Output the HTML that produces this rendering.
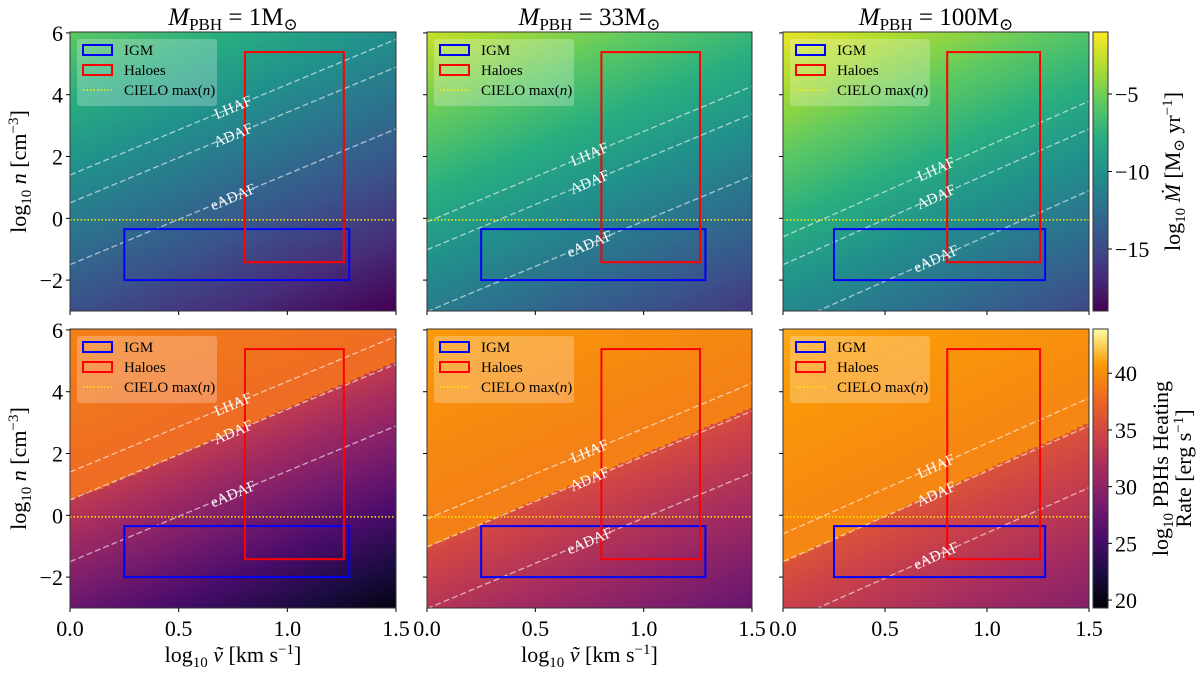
<!DOCTYPE html>
<html><head><meta charset="utf-8"><style>
html,body{margin:0;padding:0;background:#fff}
#root{position:relative;width:1200px;height:673px;overflow:hidden;font-family:"Liberation Serif","DejaVu Serif",serif}
svg{position:absolute;left:0;top:0}
canvas{position:absolute}
</style></head><body>
<div id="root">
<canvas id="c0"></canvas>
<canvas id="c1"></canvas>
<canvas id="c2"></canvas>
<canvas id="c3"></canvas>
<canvas id="c4"></canvas>
<canvas id="c5"></canvas>
<canvas id="cb0"></canvas>
<canvas id="cb1"></canvas>
<svg id="ov" width="1200" height="673"></svg>
</div>
<script>
// ---- data ----
const masses = [1, 33, 100];
const massLabels = ["1", "33", "100"];
const regimeNames = ["LHAF", "ADAF", "eADAF"];
const regimeIntercepts = [1.4, 0.5, -1.5];   // log n at log v = 0 for 1 Msun
const regimeSlope = 2.93;
const igmBox = [0.25, 1.285, -2.0, -0.35];   // x0,x1,y0,y1
const haloBox = [0.805, 1.26, -1.42, 5.38];
const cieloMaxN = -0.05;
const xTicks = [0, 0.5, 1.0, 1.5];
const xTickLabels = ["0.0", "0.5", "1.0", "1.5"];
const yTicks = [-2, 0, 2, 4, 6];
const yTickLabels = ["\u22122", "0", "2", "4", "6"];
const mdotTicks = [-5, -10, -15];
const mdotTickLabels = ["\u22125", "\u221210", "\u221215"];
const heatTicks = [20, 25, 30, 35, 40];
const heatTickLabels = ["20", "25", "30", "35", "40"];
const mdotRange = [-19, -1];
const heatRange = [19.3, 43.9];
const mdotZero = [-11.6];  // log Mdot at log n=0, log v=0, 1 Msun

// ---- layout ----
const colX = [[70,396],[427,752],[783,1089]];
const rowY = [[32,311],[329,608]];
const xDom = [0,1.5], yDom = [-3,6.03];
const cbX = [1093,1108];

const vir = ["#440154","#472d7b","#3b528b","#2c728e","#21918c","#28ae80","#5ec962","#addc30","#fde725"];
const inf = ["#000004","#1b0c41","#4a0c6b","#781c6d","#a52c60","#cf4446","#ed6925","#fb9b06","#fcffa4"];
function hex(h){return [parseInt(h.substr(1,2),16),parseInt(h.substr(3,2),16),parseInt(h.substr(5,2),16)];}
const virC = vir.map(hex), infC = inf.map(hex);
function cmap(c,t){t=Math.max(0,Math.min(1,t));const f=t*(c.length-1);const i=Math.min(c.length-2,Math.floor(f));const r=f-i;
 return [0,1,2].map(k=>Math.round(c[i][k]+(c[i+1][k]-c[i][k])*r));}

function sx(c,v){const [a,b]=colX[c];return a+(v-xDom[0])/(xDom[1]-xDom[0])*(b-a);}
function sy(r,v){const [a,b]=rowY[r];return b-(v-yDom[0])/(yDom[1]-yDom[0])*(b-a);}

function logMdot(lm,x,y){return mdotZero[0]+2*lm+y-3*x;}
function heating(lm,x,y){
  const M=logMdot(lm,x,y), m=M-lm;
  const mL=mdotZero[0]+regimeIntercepts[0], mA=mdotZero[0]+regimeIntercepts[1];
  let h;
  if(m>=mA){ h=38+0.25*(m-mL)+0.5*Math.exp(-(m-mA)/0.2)+0.8*lm; }
  else { h=33.5+1.2*lm+(1.7-0.3*lm)*(m-mA); }
  return h;
}

const NC=100;
for(let r=0;r<2;r++)for(let c=0;c<3;c++){
  const cv=document.getElementById('c'+(r*3+c));
  const w=colX[c][1]-colX[c][0], h=rowY[r][1]-rowY[r][0];
  cv.width=w;cv.height=h;cv.style.left=colX[c][0]+'px';cv.style.top=rowY[r][0]+'px';
  const ctx=cv.getContext('2d');const img=ctx.createImageData(w,h);
  const lm=Math.log10(masses[c]);
  for(let j=0;j<h;j++){
    const yv=yDom[1]-(Math.floor(j/h*NC)+0.5)/NC*(yDom[1]-yDom[0]);
    for(let i=0;i<w;i++){
      const xv=xDom[0]+(Math.floor(i/w*NC)+0.5)/NC*(xDom[1]-xDom[0]);
      let col;
      if(r===0){col=cmap(virC,(logMdot(lm,xv,yv)-mdotRange[0])/(mdotRange[1]-mdotRange[0]));}
      else{col=cmap(infC,(heating(lm,xv,yv)-heatRange[0])/(heatRange[1]-heatRange[0]));}
      const k=(j*w+i)*4;img.data[k]=col[0];img.data[k+1]=col[1];img.data[k+2]=col[2];img.data[k+3]=255;
    }
  }
  ctx.putImageData(img,0,0);
}
for(let r=0;r<2;r++){
  const cv=document.getElementById('cb'+r);const w=cbX[1]-cbX[0],h=rowY[r][1]-rowY[r][0];
  cv.width=w;cv.height=h;cv.style.left=cbX[0]+'px';cv.style.top=rowY[r][0]+'px';
  const ctx=cv.getContext('2d');
  for(let j=0;j<h;j++){const col=cmap(r?infC:virC,1-j/h);ctx.fillStyle=`rgb(${col})`;ctx.fillRect(0,j,w,1);}
}

const NS="http://www.w3.org/2000/svg";const ov=document.getElementById('ov');
function el(t,a,p){const e=document.createElementNS(NS,t);for(const k in a)e.setAttribute(k,a[k]);(p||ov).appendChild(e);return e;}

for(let r=0;r<2;r++)for(let c=0;c<3;c++){
  const g=el('g',{});
  
  
  const lm=Math.log10(masses[c]);
  const x0=colX[c][0],x1=colX[c][1],y0=rowY[r][0],y1=rowY[r][1];
  const defs=el('defs',{},g);const cp=el('clipPath',{id:'cp'+r+c},defs);el('rect',{x:x0,y:y0,width:x1-x0,height:y1-y0},cp);
  const inner=el('g',{'clip-path':`url(#cp${r}${c})`},g);
  regimeIntercepts.forEach((b0,k)=>{
    const b=b0-lm;
    const ln=el('line',{x1:sx(c,xDom[0]),y1:sy(r,b+regimeSlope*xDom[0]),x2:sx(c,xDom[1]),y2:sy(r,b+regimeSlope*xDom[1]),stroke:'rgba(255,255,255,0.6)','stroke-width':1.3,'stroke-dasharray':'6,3'},inner);
    
    
  });
  const cl=el('line',{x1:x0,x2:x1,y1:sy(r,cieloMaxN),y2:sy(r,cieloMaxN),stroke:'#ffee00','stroke-width':1.5,'stroke-dasharray':'1.5,2'},inner);
  
  
  const ib=el('rect',{x:sx(c,igmBox[0]),y:sy(r,igmBox[3]),width:sx(c,igmBox[1])-sx(c,igmBox[0]),height:sy(r,igmBox[2])-sy(r,igmBox[3]),fill:'none',stroke:'#0000ff','stroke-width':2},inner);
  
  
  const hb=el('rect',{x:sx(c,haloBox[0]),y:sy(r,haloBox[3]),width:sx(c,haloBox[1])-sx(c,haloBox[0]),height:sy(r,haloBox[2])-sy(r,haloBox[3]),fill:'none',stroke:'#ff0000','stroke-width':2},inner);
  
  
  regimeIntercepts.forEach((b0,k)=>{
    const b=b0-lm;
    const lx=0.75, px=sx(c,lx), py=sy(r,b+regimeSlope*lx);
    const ang=-Math.atan(regimeSlope*((y1-y0)/(yDom[1]-yDom[0]))/((x1-x0)/(xDom[1]-xDom[0])))*180/Math.PI;
    const t=el('text',{x:px,y:py+5,'text-anchor':'middle',fill:'#ffffff','font-size':15,transform:`rotate(${ang} ${px} ${py})`},g);
    t.textContent=regimeNames[k];
    
    
  });
  const lg=el('g',{},g);
  
  
  el('rect',{x:x0+7,y:y0+7,width:140,height:67,rx:3,fill:'rgba(255,255,255,0.25)'},lg);
  const items=[['IGM','#0000ff'],['Haloes','#ff0000'],['CIELO max(n)','#ffee00']];
  items.forEach((it,k)=>{
    const yy=y0+18+k*20;
    if(k<2) el('rect',{x:x0+13,y:yy-5,width:29,height:10,fill:'none',stroke:it[1],'stroke-width':2},lg);
    else el('line',{x1:x0+13,x2:x0+42,y1:yy,y2:yy,stroke:it[1],'stroke-width':1.5,'stroke-dasharray':'1.5,2'},lg);
    const t=el('text',{x:x0+54,y:yy+5,'font-size':15,fill:'#000'},lg);
    if(k<2)t.textContent=it[0];else t.innerHTML='CIELO max(<tspan font-style="italic">n</tspan>)';
    
    
  });
  el('rect',{x:x0,y:y0,width:x1-x0,height:y1-y0,fill:'none',stroke:'#333','stroke-width':1},g);
  xTicks.forEach((v,k)=>{const X=sx(c,v);el('line',{x1:X,x2:X,y1:y1,y2:y1+4,stroke:'#000'},g);
    if(r===1){const t=el('text',{x:X,y:y1+28,'text-anchor':'middle','font-size':22},g);t.textContent=xTickLabels[k];
      
      }});
  yTicks.forEach((v,k)=>{const Y=sy(r,v);el('line',{x1:x0-4,x2:x0,y1:Y,y2:Y,stroke:'#000'},g);
    if(c===0){const t=el('text',{x:x0-7,y:Y+8,'text-anchor':'end','font-size':22},g);t.textContent=yTickLabels[k];
      
      }});
}
masses.forEach((m,c)=>{const X=(colX[c][0]+colX[c][1])/2;
  const t=el('text',{x:X,y:25,'text-anchor':'middle','font-size':25});
  t.innerHTML=`<tspan font-style="italic">M</tspan><tspan font-size="17" dy="5">PBH</tspan><tspan dy="-5"> = ${massLabels[c]}M</tspan><tspan font-size="17" dy="5">\u2299</tspan>`;
  
  
});
[0,1].forEach(r=>{const Y=(rowY[r][0]+rowY[r][1])/2;
  const t=el('text',{x:26,y:Y,'text-anchor':'middle','font-size':22,transform:`rotate(-90 26 ${Y})`});
  t.innerHTML='log<tspan font-size="15" dy="5">10</tspan><tspan dy="-5"> </tspan><tspan font-style="italic">n</tspan> [cm<tspan font-size="15" dy="-8">\u22123</tspan><tspan dy="8">]</tspan>';
  
  
});
[0,1].forEach(c=>{const X=(colX[c][0]+colX[c][1])/2;
  const t=el('text',{x:X,y:662,'text-anchor':'middle','font-size':22});
  t.innerHTML='log<tspan font-size="15" dy="5">10</tspan><tspan dy="-5"> </tspan><tspan font-style="italic">\u1E7D</tspan> [km s<tspan font-size="15" dy="-8">\u22121</tspan><tspan dy="8">]</tspan>';
  
  
});
[0,1].forEach(r=>{
  el('rect',{x:cbX[0],y:rowY[r][0],width:cbX[1]-cbX[0],height:rowY[r][1]-rowY[r][0],fill:'none',stroke:'#333'});
  const tk=r?heatTicks:mdotTicks, tl=r?heatTickLabels:mdotTickLabels, rg=r?heatRange:mdotRange;
  tk.forEach((v,k)=>{const Y=rowY[r][1]-(v-rg[0])/(rg[1]-rg[0])*(rowY[r][1]-rowY[r][0]);
    el('line',{x1:cbX[1],x2:cbX[1]+4,y1:Y,y2:Y,stroke:'#000'});
    const t=el('text',{x:cbX[1]+7,y:Y+8,'font-size':22});t.textContent=tl[k];
    
    
  });
});
{const Y=(rowY[0][0]+rowY[0][1])/2;const t=el('text',{x:1180,y:Y,'text-anchor':'middle','font-size':22,transform:`rotate(-90 1180 ${Y})`});
 t.innerHTML='log<tspan font-size="15" dy="5">10</tspan><tspan dy="-5"> </tspan><tspan font-style="italic">\u1E40</tspan> [M<tspan font-size="15" dy="4">\u2299</tspan><tspan dy="-4"> yr</tspan><tspan font-size="15" dy="-8">\u22121</tspan><tspan dy="8">]</tspan>';
 
 }
{const Y=(rowY[1][0]+rowY[1][1])/2;
 const t=el('text',{x:1168,y:Y,'text-anchor':'middle','font-size':22,transform:`rotate(-90 1168 ${Y})`});
 t.innerHTML='log<tspan font-size="15" dy="5">10</tspan><tspan dy="-5"> PBHs Heating</tspan>';
 
 
 const t2=el('text',{x:1191,y:Y,'text-anchor':'middle','font-size':22,transform:`rotate(-90 1191 ${Y})`});
 t2.innerHTML='Rate [erg s<tspan font-size="15" dy="-8">\u22121</tspan><tspan dy="8">]</tspan>';
 
 }
</script>
</body></html>
